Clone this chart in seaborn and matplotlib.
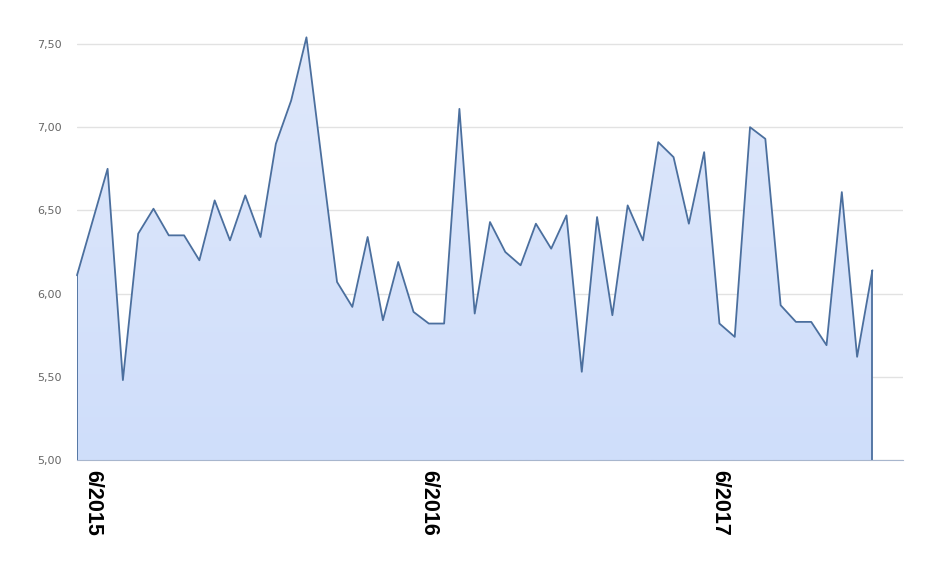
import numpy as np
import pandas as pd
import matplotlib
matplotlib.use('Agg')
import matplotlib.pyplot as plt
from matplotlib.colors import LinearSegmentedColormap
import seaborn as sns

# values, one per category slot
values = [6.11, 6.43, 6.75, 5.48, 6.36, 6.51, 6.35, 6.35, 6.20, 6.56,
          6.32, 6.59, 6.34, 6.90, 7.16, 7.54, 6.80, 6.07, 5.92, 6.34,
          5.84, 6.19, 5.89, 5.82, 5.82, 7.11, 5.88, 6.43, 6.25, 6.17,
          6.42, 6.27, 6.47, 5.53, 6.46, 5.87, 6.53, 6.32, 6.91, 6.82,
          6.42, 6.85, 5.82, 5.74, 7.00, 6.93, 5.93, 5.83, 5.83, 5.69,
          6.61, 5.62, 6.14]
label_text = ['6/2015', '6/2016', '6/2017']
label_pos = [1, 23, 42]
n_slots = 55
y_ticks = [5.0, 5.5, 6.0, 6.5, 7.0, 7.5]

df = pd.DataFrame({'idx': np.arange(len(values)), 'value': values})

sns.set_style('white')
LINE = '#4b6f9e'

fig = plt.figure(figsize=(9.28, 5.76), dpi=100)
ax = fig.add_axes([77/928, 1 - 460/576, 826/928, (460 - 34)/576])

# area with a soft vertical gradient
poly = ax.fill_between(df['idx'], df['value'], 5, facecolor='none', lw=0)
grad = np.linspace(0, 1, 256).reshape(-1, 1)
cmap = LinearSegmentedColormap.from_list('g', ['#cfdefa', '#dfe8fb'])
im = ax.imshow(grad, cmap=cmap, aspect='auto', origin='lower',
               extent=[0, n_slots - 1, 5, 7.56], zorder=1)
im.set_clip_path(poly.get_paths()[0], transform=ax.transData)

sns.lineplot(data=df, x='idx', y='value', color=LINE, lw=1.3, ax=ax,
             clip_on=False, zorder=3)
ax.vlines([df['idx'].iloc[0], df['idx'].iloc[-1]], 5,
          [values[0], values[-1]], color=LINE, lw=1.3, zorder=3)

ax.set_xlim(0, n_slots - 1)
ax.set_ylim(5, 7.56)

# y axis
ax.set_yticks(y_ticks)
ax.set_yticklabels([f'{v:.2f}'.replace('.', ',') for v in y_ticks],
                   fontsize=8, color='#666666', family='DejaVu Sans')
ax.tick_params(axis='y', length=0, pad=11)
ax.yaxis.grid(True, color='#e2e2e2', lw=1)
ax.set_axisbelow(True)

# x axis
ax.set_xticks(label_pos)
ax.set_xticklabels(label_text, rotation=-90, fontsize=15.5,
                   fontweight='bold', family='Liberation Sans', color='black')
ax.set_xticks(np.arange(n_slots), minor=True)
ax.tick_params(axis='x', which='both', length=4, color='#cccccc',
               direction='out', pad=3)
ax.set_xlabel('')
ax.set_ylabel('')

for s in ['top', 'right', 'left']:
    ax.spines[s].set_visible(False)
ax.spines['bottom'].set_color('#a8b6cd')
ax.spines['bottom'].set_zorder(4)

fig.savefig('out.png', dpi=100)
